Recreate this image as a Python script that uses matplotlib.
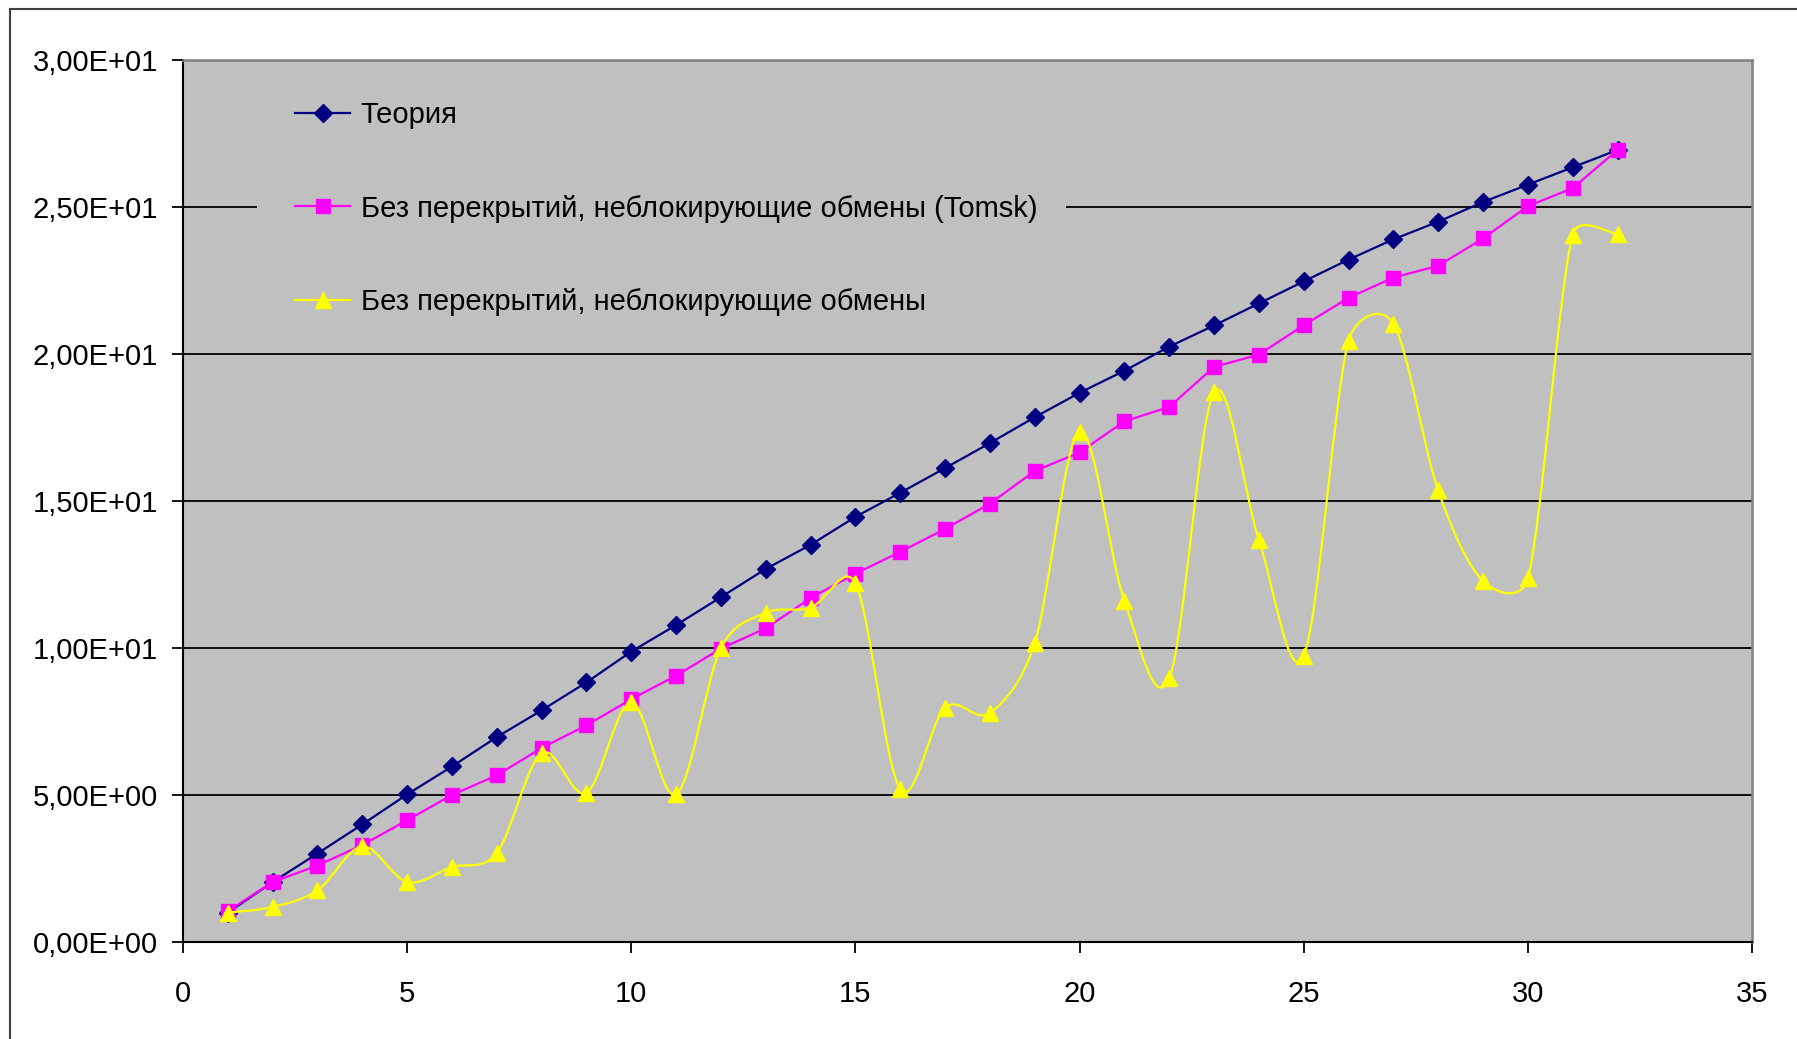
import matplotlib
matplotlib.use("Agg")
import math
import matplotlib.pyplot as plt
from matplotlib.path import Path
from matplotlib.patches import PathPatch, Rectangle
from matplotlib.lines import Line2D
from matplotlib.ticker import FuncFormatter

# ---- data ----
procs = list(range(1, 33))
theory = [1.0, 2.04, 3.01, 4.0, 5.02, 5.97, 6.97, 7.88, 8.83, 9.88, 10.78, 11.73,
          12.69, 13.51, 14.46, 15.28, 16.12, 16.97, 17.85, 18.68, 19.43, 20.25,
          20.97, 21.72, 22.47, 23.21, 23.9, 24.5, 25.17, 25.76, 26.35, 26.94]
tomsk = [1.05, 2.04, 2.6, 3.3, 4.14, 5.0, 5.67, 6.6, 7.37, 8.26, 9.06, 9.98,
         10.67, 11.7, 12.53, 13.27, 14.05, 14.91, 16.02, 16.65, 17.71, 18.2,
         19.56, 19.98, 20.98, 21.91, 22.6, 23.0, 23.93, 25.03, 25.64, 26.94]
nonblock = [1.0, 1.19, 1.76, 3.25, 2.04, 2.55, 3.03, 6.42, 5.08, 8.15, 5.02, 10.0,
            11.2, 11.37, 12.2, 5.2, 7.97, 7.79, 10.17, 17.36, 11.6, 8.97,
            18.7, 13.68, 9.74, 20.45, 21.03, 15.36, 12.28, 12.37, 24.05, 24.08]
labels = ["Теория",
          "Без перекрытий, неблокирующие обмены (Tomsk)",
          "Без перекрытий, неблокирующие обмены"]
x_ticks = [0, 5, 10, 15, 20, 25, 30, 35]
y_ticks = [0, 5, 10, 15, 20, 25, 30]

plt.rcParams['font.family'] = ['Liberation Sans', 'DejaVu Sans']
FS = 21

W, H = 1797, 1039
fig = plt.figure(figsize=(W / 100, H / 100), dpi=100)
fig.patch.set_facecolor('white')
ax = fig.add_axes([183 / W, 1 - 942 / H, (1752 - 183) / W, (942 - 60) / H])
ax.set_facecolor('#c0c0c0')

# outer chart frame (left and top edges visible)
fig.add_artist(Line2D([10 / W, 10 / W], [0, 1 - 9 / H], transform=fig.transFigure,
                      color='#404040', lw=1.5))
fig.add_artist(Line2D([10 / W, 1], [1 - 9 / H, 1 - 9 / H], transform=fig.transFigure,
                      color='#404040', lw=1.5))

NAVY, PINK, YEL = '#000080', '#ff00ff', '#ffff00'

ax.set_xlim(0, 35)
ax.set_ylim(0, 30)

l1, = ax.plot(procs, theory, color=NAVY, lw=1.6, marker='D', ms=9.5,
              mfc=NAVY, mec=NAVY, zorder=3, label=labels[0])
l2, = ax.plot(procs, tomsk, color=PINK, lw=1.6, marker='s', ms=9.5,
              mfc=PINK, mec=PINK, zorder=4, label=labels[1])


def excel_smooth_path(xs, ys, trans):
    """Bezier smoothing in the style of Excel's 'smoothed line' (in screen space)."""
    pts = [tuple(trans.transform((x, y))) for x, y in zip(xs, ys)]
    inv = trans.inverted()
    n = len(pts)

    def dist(a, b):
        return math.hypot(b[0] - a[0], b[1] - a[1])

    verts = [pts[0]]
    codes = [Path.MOVETO]
    for i in range(n - 1):
        p0 = pts[i - 1] if i > 0 else pts[i]
        p1 = pts[i]
        p2 = pts[i + 1]
        p3 = pts[i + 2] if i + 2 < n else pts[i + 1]
        d02, d12, d13 = dist(p0, p2), dist(p1, p2), dist(p1, p3)
        f1 = f2 = 1.0 / 6.0
        if d02 / 6.0 >= d12 / 2.0 and d02 > 0:
            f1 = d12 / d02 / 2.0
        if d13 / 6.0 >= d12 / 2.0 and d13 > 0:
            f2 = d12 / d13 / 2.0
        b1 = (p1[0] + (p2[0] - p0[0]) * f1, p1[1] + (p2[1] - p0[1]) * f1)
        b2 = (p2[0] - (p3[0] - p1[0]) * f2, p2[1] - (p3[1] - p1[1]) * f2)
        verts += [b1, b2, p2]
        codes += [Path.CURVE4] * 3
    data_verts = inv.transform(verts)
    return Path(data_verts, codes)


ax.add_patch(PathPatch(excel_smooth_path(procs, nonblock, ax.transData),
                       facecolor='none', edgecolor=YEL, lw=1.6, zorder=5))
ax.plot(procs, nonblock, ls='none', marker='^', ms=11, mfc=YEL, mec=YEL, zorder=6)
l3 = Line2D([], [], color=YEL, lw=1.6, marker='^', ms=11, mfc=YEL, mec=YEL)

ax.set_xticks(x_ticks)
ax.set_yticks(y_ticks)
ax.yaxis.set_major_formatter(FuncFormatter(lambda v, p: f"{v:.2E}".replace('.', ',')))
ax.tick_params(axis='both', labelsize=FS, colors='black', width=1.3)
ax.tick_params(axis='y', length=8, pad=10)
ax.tick_params(axis='x', length=8, pad=19)
ax.yaxis.grid(True, color='black', lw=1.3, zorder=1)
ax.set_axisbelow(True)

for s in ['left', 'bottom']:
    ax.spines[s].set_color('black')
    ax.spines[s].set_linewidth(1.5)
for s in ['top', 'right']:
    ax.spines[s].set_color('#808080')
    ax.spines[s].set_linewidth(1.8)

# legend background area (hides the gridline behind the legend, like the original)
ax.add_patch(Rectangle((74 / 1569, 0.70), (1066 - 257) / 1569, 0.28,
                       transform=ax.transAxes, facecolor='#c0c0c0',
                       edgecolor='none', zorder=1.5))

leg = ax.legend([l1, l2, l3], labels, loc='upper left',
                bbox_to_anchor=(74 / 1569, 1 - 3 / 882), fontsize=FS,
                frameon=False, borderpad=1.3,
                labelspacing=2.25, handlelength=1.9, handletextpad=0.35,
                borderaxespad=0)
leg.set_zorder(2)

fig.savefig('out.png', dpi=100)
